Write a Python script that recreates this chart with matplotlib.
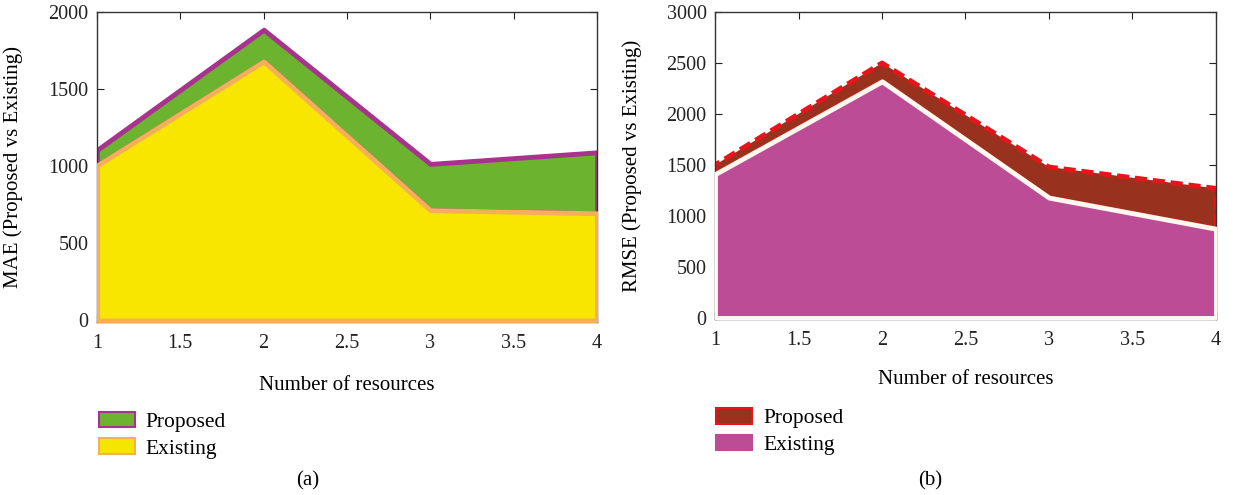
import matplotlib.pyplot as plt
from matplotlib.patches import Patch

plt.rcParams["font.family"] = ["Liberation Serif", "DejaVu Serif"]

# number of resources
resources = [1, 2, 3, 4]

# (a) MAE, stacked: existing at the bottom, proposed on top
mae_existing = [1005, 1680, 715, 695]
mae_proposed = [100, 205, 300, 395]

# (b) RMSE, stacked the same way
rmse_existing = [1410, 2320, 1180, 875]
rmse_proposed = [90, 180, 300, 395]

x_ticks = [1, 1.5, 2, 2.5, 3, 3.5, 4]
x_tick_labels = ["1", "1.5", "2", "2.5", "3", "3.5", "4"]

fig = plt.figure(figsize=(12.45, 4.95), dpi=100)
ax1 = fig.add_axes([0.0779, 0.3495, 0.4016, 0.6263])
ax2 = fig.add_axes([0.5743, 0.3556, 0.4024, 0.6202])


def style_axes(ax, ylim, yticks):
    ax.set_xlim(1, 4)
    ax.set_ylim(*ylim)
    ax.set_xticks(x_ticks)
    ax.set_xticklabels(x_tick_labels)
    ax.set_yticks(yticks)
    ax.tick_params(direction="in", top=True, right=True, length=5,
                   width=0.8, labelsize=14.5, colors="#222222")
    ax.tick_params(axis="x", pad=9)
    ax.tick_params(axis="y", pad=6)
    for s in ax.spines.values():
        s.set_color("#333333")
        s.set_linewidth(1.0)


# ---- (a) MAE ----
mae_total = [e + p for e, p in zip(mae_existing, mae_proposed)]
ax1.fill_between(resources, mae_existing, mae_total, facecolor="#6cb330",
                 edgecolor="#a8338e", linewidth=3.5, zorder=2)
ax1.fill_between(resources, 0, mae_existing, facecolor="#f8e600",
                 edgecolor="#f5ae5a", linewidth=3.5, zorder=3)
style_axes(ax1, (-10, 2000), [0, 500, 1000, 1500, 2000])
ax1.set_xlabel("Number of resources", fontsize=15)
ax1.set_ylabel("MAE (Proposed vs Existing)", fontsize=15)
ax1.xaxis.set_label_coords(0.5, -0.175)
ax1.yaxis.set_label_coords(-0.148, 0.5)

h1 = [Patch(facecolor="#6cb330", edgecolor="#a8338e", linewidth=1.5),
      Patch(facecolor="#f5e600", edgecolor="#f5ae5a", linewidth=1.5)]
ax1.legend(h1, ["Proposed", "Existing"], loc="upper left",
           bbox_to_anchor=(0.0705, 0.19), bbox_transform=fig.transFigure,
           frameon=False, fontsize=15.5, handlelength=1.7, handleheight=0.72,
           handletextpad=0.5, labelspacing=0.3, borderpad=0)

# ---- (b) RMSE ----
rmse_total = [e + p for e, p in zip(rmse_existing, rmse_proposed)]
ax2.fill_between(resources, rmse_existing, rmse_total, facecolor="#98321f",
                 edgecolor="#e8141c", linewidth=3.5, linestyle=(0, (2.5, 1.2)),
                 zorder=2)
ax2.fill_between(resources, 0, rmse_existing, facecolor="#bd4c96",
                 edgecolor="#fff8ee", linewidth=3.5, zorder=3)
style_axes(ax2, (-10, 3000), [0, 500, 1000, 1500, 2000, 2500, 3000])
ax2.set_xlabel("Number of resources", fontsize=15)
ax2.set_ylabel("RMSE (Proposed vs Existing)", fontsize=15)
ax2.xaxis.set_label_coords(0.5, -0.166)
ax2.yaxis.set_label_coords(-0.146, 0.5)

h2 = [Patch(facecolor="#98321f", edgecolor="#e8141c", linewidth=1.5),
      Patch(facecolor="#bd4c96", edgecolor="#bd4c96", linewidth=1.5)]
ax2.legend(h2, ["Proposed", "Existing"], loc="upper left",
           bbox_to_anchor=(0.5663, 0.197), bbox_transform=fig.transFigure,
           frameon=False, fontsize=15.5, handlelength=1.7, handleheight=0.72,
           handletextpad=0.5, labelspacing=0.3, borderpad=0)

fig.text(0.2474, 0.028, "(a)", ha="center", va="center", fontsize=15)
fig.text(0.747, 0.028, "(b)", ha="center", va="center", fontsize=15)

fig.savefig("out.png", dpi=100)
